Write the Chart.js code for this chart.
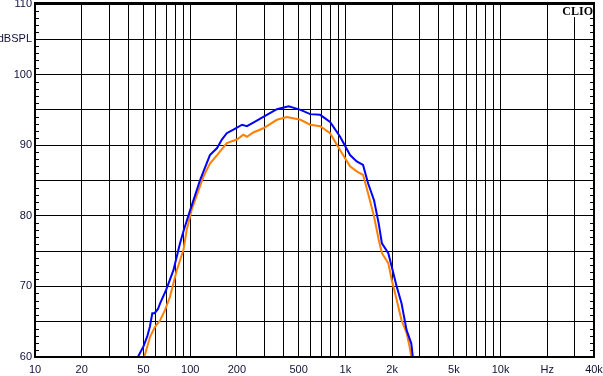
<!DOCTYPE html>
<html>
<head>
<meta charset="utf-8">
<script src="https://cdn.jsdelivr.net/npm/chart.js@4/dist/chart.umd.min.js"></script>
<style>
html,body{margin:0;padding:0;background:#fff;}
#wrap{width:603px;height:376px;position:relative;}
</style>
</head>
<body>
<div id="wrap"><canvas id="c" width="603" height="376"></canvas></div>
<script>
// ---- data ----
const freqBlue = [46, 50, 53, 55, 57, 59, 62, 64, 70, 78, 86, 91, 100, 116, 134, 149, 160, 172, 190, 216, 232, 255, 296, 362, 431, 514, 593, 688, 797, 925, 1072, 1183, 1300, 1400, 1530, 1640, 1720, 1890, 1990, 2140, 2300, 2480, 2660, 2720];
const splBlue  = [60, 61.5, 63, 64.3, 66.2, 66.2, 66.8, 67.6, 69.5, 72.3, 76.1, 78, 80.8, 85.1, 88.6, 89.6, 90.8, 91.7, 92.2, 92.9, 92.7, 93.2, 94.0, 95.1, 95.5, 95.0, 94.4, 94.3, 93.3, 91.2, 88.6, 87.7, 87.2, 84.6, 82.2, 78.9, 76.1, 74.7, 72.8, 70.0, 67.6, 63.8, 61.9, 60];
const freqOrange = [50.6, 55.2, 59.5, 64, 68.7, 74, 82, 90.5, 95, 102, 122, 134, 149, 172, 200, 220, 232, 255, 296, 362, 420, 514, 593, 688, 797, 925, 1072, 1183, 1300, 1400, 1530, 1640, 1720, 1890, 1990, 2140, 2300, 2480, 2590, 2660];
const splOrange  = [60, 62.9, 64.3, 65.2, 66.6, 68.5, 72.3, 75.2, 78, 80.8, 85.6, 87.4, 88.6, 90.3, 90.8, 91.5, 91.2, 91.8, 92.4, 93.6, 94.0, 93.6, 92.9, 92.7, 91.7, 89.3, 87.0, 86.3, 85.8, 83.2, 79.9, 76.6, 74.7, 73.3, 70.9, 68.1, 65.2, 63.4, 61.5, 60];

const xGridValues = [10,20,30,40,50,60,70,80,90,100,200,300,400,500,600,700,800,900,1000,2000,3000,4000,5000,6000,7000,8000,9000,10000,20000,30000,40000];
const xTickLabels = {10:'10',20:'20',50:'50',100:'100',200:'200',500:'500',1000:'1k',2000:'2k',5000:'5k',10000:'10k',20000:'Hz',40000:'40k'};
const yGridValues = [60,65,70,75,80,85,90,95,100,105,110];
const yTickLabels = {60:'60',70:'70',80:'80',90:'90',100:'100',105:'dBSPL',110:'110'};
const yMinorValues = [61,62,63,64,66,67,68,69,71,72,73,74,76,77,78,79,81,82,83,84,86,87,88,89,91,92,93,94,96,97,98,99,101,102,103,104,106,107,108,109];
const brandText = 'CLIO';

const toXY = (fs, vs) => fs.map((f, i) => ({x: f, y: vs[i]}));

const framePlugin = {
  id: 'frame',
  afterDraw(chart) {
    const ctx = chart.ctx, a = chart.chartArea, ys = chart.scales.y;
    ctx.save();
    ctx.strokeStyle = '#000';
    ctx.lineWidth = 1;
    ctx.beginPath();
    yMinorValues.forEach(v => {
      const py = Math.round(ys.getPixelForValue(v)) + 0.5;
      ctx.moveTo(a.left, py); ctx.lineTo(a.left + 4, py);
      ctx.moveTo(a.right - 4, py); ctx.lineTo(a.right, py);
    });
    ctx.stroke();
    ctx.font = 'bold 12px "Liberation Serif", "DejaVu Serif", serif';
    const w = ctx.measureText(brandText).width;
    ctx.fillStyle = '#fff';
    ctx.fillRect(a.right - w - 4, a.top, w + 4, 13);
    ctx.fillStyle = '#000';
    ctx.textAlign = 'right';
    ctx.textBaseline = 'top';
    ctx.fillText(brandText, a.right - 1, a.top + 2);
    ctx.lineWidth = 2;
    ctx.strokeRect(a.left, a.top, a.right - a.left, a.bottom - a.top);
    ctx.fillRect(a.left - 1, a.top - 2, a.right - a.left + 2, 3);
    ctx.restore();
  }
};

new Chart(document.getElementById('c'), {
  type: 'line',
  data: {
    datasets: [
      {label: 'orange', data: toXY(freqOrange, splOrange), borderColor: '#ff8000', borderWidth: 2, pointRadius: 0, tension: 0, order: 2},
      {label: 'blue', data: toXY(freqBlue, splBlue), borderColor: '#0000ff', borderWidth: 2, pointRadius: 0, tension: 0, order: 1}
    ]
  },
  options: {
    responsive: false,
    animation: false,
    events: [],
    layout: {autoPadding: false, padding: {top: 4, right: 9, left: 0, bottom: 0}},
    plugins: {legend: {display: false}, tooltip: {enabled: false}},
    scales: {
      x: {
        type: 'logarithmic', min: 10, max: 40000,
        afterBuildTicks: s => { s.ticks = xGridValues.map(v => ({value: v})); },
        afterFit: s => { s.height = 19; s.paddingLeft = 0; s.paddingRight = 0; },
        grid: {color: '#000', lineWidth: 1, drawTicks: false},
        border: {display: false},
        ticks: {
          autoSkip: false, maxRotation: 0, padding: 6,
          color: '#10103a',
          font: {family: '"Liberation Sans", Arial, sans-serif', size: 11},
          callback: v => xTickLabels[v] || ''
        }
      },
      y: {
        type: 'linear', min: 60, max: 110,
        afterBuildTicks: s => { s.ticks = yGridValues.map(v => ({value: v})); },
        afterFit: s => { s.width = 35; s.paddingTop = 0; s.paddingBottom = 0; },
        grid: {color: '#000', lineWidth: 1, drawTicks: false},
        border: {display: false},
        ticks: {
          autoSkip: false, padding: 3,
          color: '#10103a',
          font: {family: '"Liberation Sans", Arial, sans-serif', size: 11, lineHeight: 0.2},
          callback: v => yTickLabels[v] || ''
        }
      }
    }
  },
  plugins: [framePlugin]
});
</script>
</body>
</html>
